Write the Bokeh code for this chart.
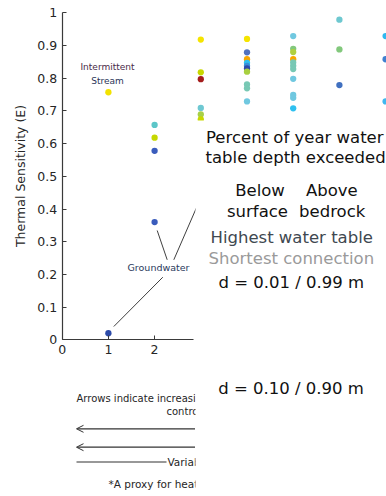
from bokeh.plotting import figure
from bokeh.models import (Range1d, LinearAxis, FixedTicker, CustomJSTickFormatter,
                          Arrow, OpenHead)
from bokeh.core.properties import value
from bokeh.embed import file_html
from bokeh.resources import INLINE

# ---------------- data ----------------
x_pos = [1, 1,
         2, 2, 2, 2,
         3, 3, 3, 3, 3, 3,
         4, 4, 4, 4, 4, 4, 4, 4, 4, 4,
         5, 5, 5, 5, 5, 5, 5, 5, 5, 5, 5,
         6, 6, 6,
         7, 7, 7]
sensitivity = [0.757, 0.020,
               0.657, 0.618, 0.578, 0.360,
               0.918, 0.818, 0.797, 0.709, 0.689, 0.674,
               0.920, 0.879, 0.858, 0.847, 0.838, 0.830, 0.820, 0.781, 0.769, 0.729,
               0.929, 0.890, 0.880, 0.858, 0.848, 0.838, 0.828, 0.798, 0.749, 0.740, 0.708,
               0.979, 0.888, 0.779,
               0.929, 0.858, 0.729]
colors = ["#f2e200", "#2c4aa8",
          "#5cc6c8", "#c6d800", "#3a5cbc", "#3a5cbc",
          "#f5e400", "#c8d800", "#a41c1c", "#6ec8d2", "#a8d048", "#c8d800",
          "#f5e400", "#5272c0", "#f8a800", "#2ec0f0", "#3a8ed8", "#2e4aac", "#a8d040",
          "#78c8b4", "#78c8b4", "#70c8e0",
          "#70c8e0", "#82c87c", "#b0d040", "#f8a800", "#78c8b4", "#78c8b4", "#78c8b4",
          "#70c8e0", "#70c8e0", "#70c8e0", "#2ec0f0",
          "#6ec8d0", "#82c87c", "#4070c0",
          "#30b8f0", "#4080d0", "#40b8f0"]
y_ticks = [0, 0.1, 0.2, 0.3, 0.4, 0.5, 0.6, 0.7, 0.8, 0.9, 1.0]
x_ticks = [0, 1, 2]
y_label = "Thermal Sensitivity (E)"

# pixel -> data helpers (layout of annotations only)
X0, XS = 61.7, 46.2
Y0, YS = 339.3, 327.0
def dx(p): return (p - X0) / XS
def dy(p): return (Y0 - p) / YS

FONT = value("DejaVu Sans")

p = figure(width=386, height=496, x_range=Range1d(dx(0), dx(386)),
           y_range=Range1d(dy(496), dy(0)), x_axis_type=None, y_axis_type=None,
           toolbar_location=None, output_backend="svg", min_border=0, title=None)
p.outline_line_color = None
p.background_fill_color = "white"
p.border_fill_color = "white"

fmt = CustomJSTickFormatter(code="return (Math.round(tick*10)/10).toString();")
yax = LinearAxis(fixed_location=0, bounds=(0, 1), ticker=FixedTicker(ticks=y_ticks),
                 formatter=fmt, axis_label=y_label)
xax = LinearAxis(fixed_location=0, bounds=(0, dx(193)), ticker=FixedTicker(ticks=x_ticks),
                 formatter=fmt)
for ax in (yax, xax):
    ax.axis_line_color = "#3a3a3a"
    ax.axis_line_width = 1.2
    ax.major_tick_line_color = "#3a3a3a"
    ax.major_tick_in = 4
    ax.major_tick_out = 0
    ax.minor_tick_line_color = None
    ax.major_label_text_font = "DejaVu Sans"
    ax.major_label_text_font_size = "12.5px"
    ax.major_label_text_color = "#262626"
    ax.major_label_standoff = 5
yax.axis_label_text_font = "DejaVu Sans"
yax.axis_label_text_font_size = "12.5px"
yax.axis_label_text_font_style = "normal"
yax.axis_label_text_color = "#262626"
yax.axis_label_standoff = 7
p.add_layout(yax, "left")
p.add_layout(xax, "below")

# data points
p.scatter(x=x_pos, y=sensitivity, size=6.3, fill_color=colors, line_color=None)

# annotations in the plot
p.text(x=[dx(107), dx(107)], y=[dy(66.7), dy(80.7)], text=["Intermittent", "Stream"],
       text_align="center", text_baseline="middle", text_font=FONT,
       text_font_size="9px", text_color=["#4a2a48", "#2a3558"])
p.text(x=[dx(127)], y=[dy(266.7)], text=["Groundwater"], text_align="left",
       text_baseline="middle", text_font=FONT, text_font_size="9.5px", text_color="#2a3a5c")
p.segment(x0=[dx(113.3), dx(156.7), dx(173.3)], y0=[dy(326), dy(230), dy(259.3)],
          x1=[dx(162.3), dx(166.7), dx(203)], y1=[dy(276.7), dy(259.3), dy(191)],
          line_color="#404040", line_width=1)

# bottom notes
p.text(x=[dx(76), dx(166), dx(167), dx(108)], y=[dy(397.5), dy(411), dy(461.5), dy(483.5)],
       text=["Arrows indicate increasing", "control", "Variable", "*A proxy for heat"],
       text_align="left", text_baseline="middle", text_font=FONT,
       text_font_size=["10px", "10px", "10.5px", "10.5px"], text_color="#262626")
p.segment(x0=[dx(76)], y0=[dy(461.5)], x1=[dx(166)], y1=[dy(461.5)],
          line_color="#333333", line_width=1.2)

# white cover panel
p.quad(left=[dx(195)], right=[dx(392)], bottom=[dy(500)], top=[dy(120)],
       fill_color="white", line_color=None)

for yy in (428.3, 446.7):
    p.add_layout(Arrow(end=OpenHead(size=7, line_width=1, line_color="#333333"),
                       x_start=dx(194.5), y_start=dy(yy), x_end=dx(76), y_end=dy(yy),
                       line_width=1.2, line_color="#333333"))

# right panel texts
BIG = "16.5px"
p.text(x=[dx(205.5), dx(205)], y=[dy(136.7), dy(157.3)],
       text=["Percent of year water", "table depth exceeded"], text_align="left",
       text_baseline="alphabetic", text_font=FONT, text_font_size=BIG, text_color="#111111")
p.text(x=[dx(259.5), dx(331.3), dx(257), dx(331.7)], y=[dy(190), dy(190), dy(211), dy(211)],
       text=["Below", "Above", "surface", "bedrock"], text_align="center",
       text_baseline="alphabetic", text_font=FONT, text_font_size=BIG, text_color="#111111")
p.text(x=[dx(291.2), dx(290.8), dx(290.8), dx(290.5)],
       y=[dy(236.7), dy(257.7), dy(281.7), dy(387.7)],
       text=["Highest water table", "Shortest connection", "d = 0.01 / 0.99 m", "d = 0.10 / 0.90 m"],
       text_align="center", text_baseline="alphabetic", text_font=FONT, text_font_size=BIG,
       text_color=["#404850", "#9a9a9a", "#111111", "#111111"])

open("out.html", "w").write(file_html(p, INLINE))
